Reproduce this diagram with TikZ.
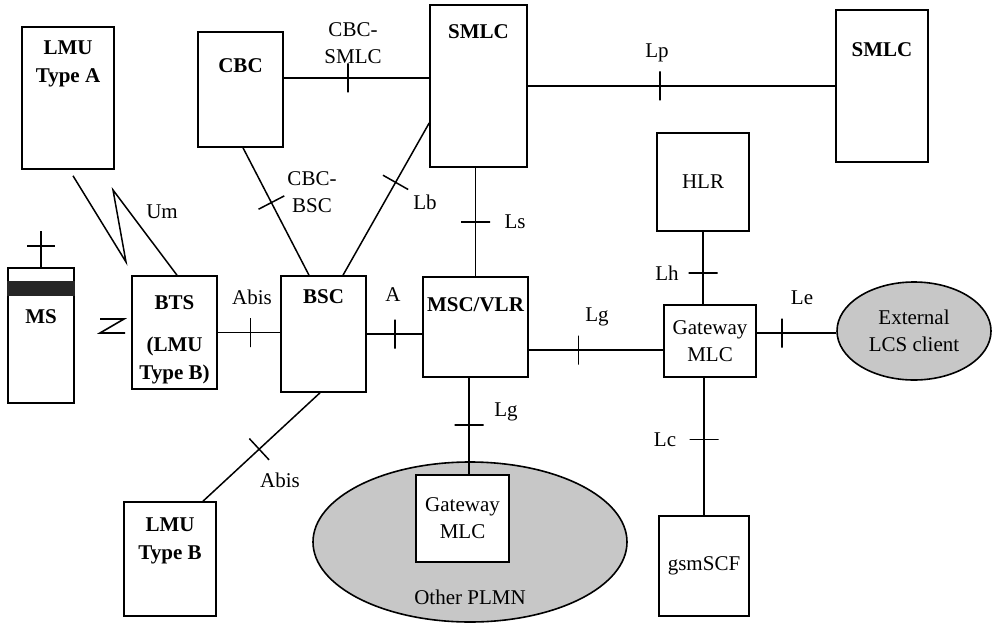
\documentclass[tikz,border=0pt]{standalone}
\usepackage{fontspec}
\setmainfont{Liberation Serif}
\usetikzlibrary{shapes.geometric}

\begin{document}
\begin{tikzpicture}[x=1pt, y=-1pt,
  every node/.style={font=\fontsize{21}{27}\selectfont},
  box/.style={draw, line width=1.6pt, fill=white, inner sep=0pt, align=center},
  hdr/.style={anchor=north, inner sep=0pt, align=center, font=\fontsize{21}{28}\selectfont\bfseries},
  cloud/.style={draw, ellipse, line width=1.6pt, fill=black!22, inner sep=0pt, align=center},
  link/.style={line width=1.5pt},
  tick/.style={draw, sloped, line width=1.5pt, inner sep=0pt, minimum width=0pt, minimum height=29pt}]

\useasboundingbox (0,0) rectangle (995,623);

% network elements
\node[box, minimum width=92, minimum height=142, label={[hdr, yshift=-14pt]north:LMU\\Type A}] (lmua) at (68,98) {};
\node[box, minimum width=85, minimum height=115, label={[hdr, yshift=-27pt]north:CBC}] (cbc) at (240.5,89.5) {};
\node[box, minimum width=97, minimum height=162, label={[hdr, yshift=-20pt]north:SMLC}] (smlc) at (478.5,86) {};
\node[box, minimum width=92, minimum height=152, label={[hdr, yshift=-33pt]north:SMLC}] (smlcr) at (882,86) {};
\node[box, minimum width=92, minimum height=98] (hlr) at (703,182) {HLR};
\node[box, minimum width=66, minimum height=135, label={[hdr, yshift=-42pt]north:MS}] (ms) at (41,335.5) {};
\node[box, minimum width=85, minimum height=113, label={[hdr, yshift=-20pt]north:BTS\\[14pt](LMU\\Type B)}] (bts) at (174.5,332.5) {};
\node[box, minimum width=85, minimum height=116, label={[hdr, yshift=-14pt]north:BSC}] (bsc) at (323.5,334) {};
\node[box, minimum width=105, minimum height=100, label={[hdr, yshift=-21pt]north:MSC/VLR}] (msc) at (475.5,327) {};
\node[box, minimum width=92, minimum height=72] (gmlc) at (710,341) {Gateway\\MLC};
\node[cloud, minimum width=154, minimum height=98] (ext) at (914,331) {External\\LCS client};
\node[box, minimum width=92, minimum height=114, label={[hdr, yshift=-16pt]north:LMU\\Type B}] (lmub) at (170,559) {};
\node[cloud, minimum width=314, minimum height=160] (plmn) at (470,542) {};
\node[box, minimum width=93, minimum height=87] (gmlc2) at (462.5,518.5) {Gateway\\MLC};
\node[box, minimum width=90, minimum height=100] (scf) at (704,566) {gsmSCF};

% MS antenna and display band
\fill[black!85] ([yshift=-14pt]ms.north west) rectangle ([yshift=-29pt]ms.north east);
\draw[link] (ms.north) -- ++(0,-36);
\draw[link] ([xshift=-14pt, yshift=21pt]ms.north) -- ([xshift=14pt, yshift=21pt]ms.north);
\draw[line width=1.6pt] (100,319) -- (124,319) -- (100,333) -- (125,333);

% radio link
\draw[link] ([xshift=5pt, yshift=-6pt]lmua.south) -- (126,262) -- (113,190) -- ([xshift=2.5pt]bts.north);

% interfaces
\draw[link] ([yshift=11.5pt]cbc.east) -- node[tick, pos=.44]{} ([yshift=11.5pt]cbc.east -| smlc.west);
\draw[link] (smlc.east) -- node[tick, pos=.43]{} (smlc.east -| smlcr.west);
\draw[link] ([xshift=2.5pt]cbc.south) -- node[tick, pos=.43]{} ([xshift=-14.5pt]bsc.north);
\draw[link] ([yshift=-37pt]smlc.west) -- node[tick, pos=.39]{} ([xshift=19.5pt]bsc.north);
\draw[link] (msc.north |- smlc.south) -- node[tick, pos=.5]{} (msc.north);
\draw[link] (bts.east) -- node[tick, pos=.52]{} (bts.east -| bsc.west);
\draw[link] (bsc.east) -- node[tick, pos=.51]{} (bsc.east -| msc.west);
\draw[link] ([yshift=-23pt]msc.east) -- node[tick, pos=.37]{} ([yshift=-23pt]msc.east -| gmlc.west);
\draw[link] ([xshift=-6.5pt]msc.south) -- node[tick, pos=.49]{} ([xshift=-6.5pt]msc.south |- gmlc2.north);
\draw[link] (hlr.south) -- node[tick, pos=.57]{} (hlr.south |- gmlc.north);
\draw[link] ([yshift=8pt]gmlc.east) -- node[tick, pos=.32]{} ([yshift=8pt]gmlc.east -| ext.west);
\draw[link] (scf.north |- gmlc.south) -- node[tick, pos=.45]{} (scf.north);
\draw[link] ([xshift=-3.5pt]bsc.south) -- node[tick, pos=.52]{} ([xshift=33pt]lmub.north);

% interface labels
\node (um) at (162,212) {Um};
\node[align=center] (cbcsmlc) at (353,43) {CBC-\\SMLC};
\node[align=center] (cbcbsc) at (312,192) {CBC-\\BSC};
\node (lb) at (425,202) {Lb};
\node (ls) at (515,222) {Ls};
\node (lp) at (657,53) {Lp};
\node (abis) at (252,297) {Abis};
\node (a) at (393,295) {A};
\node (lg) at (597,317) {Lg};
\node (lgb) at (506,412) {Lg};
\node (lh) at (667,273) {Lh};
\node (le) at (802,298) {Le};
\node (lc) at (665,440) {Lc};
\node (abisb) at (280,480) {Abis};
\node (other) at (470,597) {Other PLMN};

\end{tikzpicture}
\end{document}
